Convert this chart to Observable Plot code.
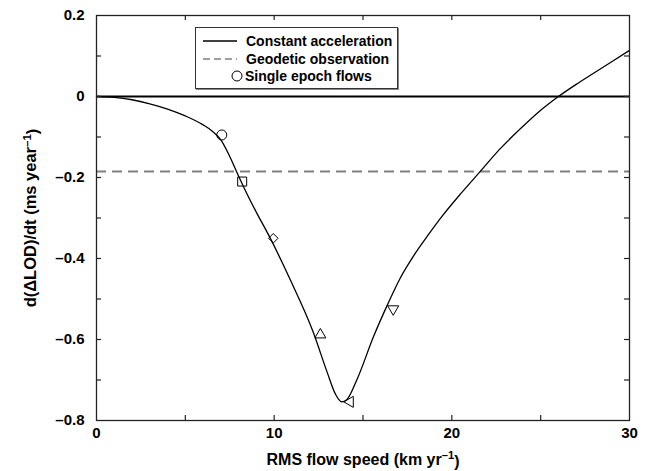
<!DOCTYPE html>
<html><head><meta charset="utf-8">
<script src="https://cdn.jsdelivr.net/npm/d3@7"></script>
<script src="https://cdn.jsdelivr.net/npm/@observablehq/plot@0.6"></script>
<style>
body{margin:0;background:#fff;}
#wrap{position:relative;width:652px;height:471px;font-family:"Liberation Sans",Arial,sans-serif;}
#legend{position:absolute;left:195px;top:27px;width:201px;height:60px;border:1px solid #333;box-shadow:1px 1px 0 #888;background:#fff;}
</style></head><body><div id="wrap"></div>
<script>
// Constant acceleration curve
const curveX = [0, 1, 2, 3, 4, 5, 6, 6.5, 7, 7.5, 8, 8.5, 9, 9.7, 10.9, 12.2, 13, 13.45, 13.8, 14.1, 14.65, 15.6, 16.4, 17.1, 17.9, 18.7, 19.5, 20.5, 21.6, 22.7, 23.9, 25, 26, 27, 28, 30];
const curveY = [0, -0.002, -0.008, -0.018, -0.031, -0.048, -0.07, -0.085, -0.107, -0.148, -0.197, -0.243, -0.286, -0.343, -0.452, -0.582, -0.683, -0.735, -0.754, -0.748, -0.7, -0.592, -0.512, -0.448, -0.39, -0.34, -0.293, -0.24, -0.185, -0.13, -0.078, -0.034, 0, 0.03, 0.058, 0.114];
// Geodetic observation
const geodetic = -0.185;
// Single epoch flows
const flowX = [7.05, 8.2, 9.95, 12.6, 14.2, 16.7];
const flowY = [-0.095, -0.21, -0.35, -0.585, -0.754, -0.528];
const flowShapes = ["circle", "square", "diamond", "triangleUp", "triangleLeft", "triangleDown"];
// Ticks
const xTicks = [0, 10, 20, 30];
const xMinor = [5, 10, 15, 20, 25];
const yTicks = [0.2, 0, -0.2, -0.4, -0.6, -0.8];
const yMinor = [0.1, 0, -0.1, -0.2, -0.3, -0.4, -0.5, -0.6, -0.7];
const legendLabels = ["Constant acceleration", "Geodetic observation", "Single epoch flows"];

const shapes = {
  circle: {draw(c, s) { const r = Math.sqrt(s / Math.PI); c.moveTo(r, 0); c.arc(0, 0, r, 0, 2 * Math.PI); }},
  square: {draw(c, s) { const r = Math.sqrt(s / Math.PI) * 0.9; c.rect(-r, -r, 2 * r, 2 * r); }},
  diamond: {draw(c, s) { const r = Math.sqrt(s / Math.PI) * 0.95; c.moveTo(0, -r); c.lineTo(r, 0); c.lineTo(0, r); c.lineTo(-r, 0); c.closePath(); }},
  triangleUp: {draw(c, s) { const r = Math.sqrt(s / Math.PI); c.moveTo(0, -r); c.lineTo(1.1 * r, 0.9 * r); c.lineTo(-1.1 * r, 0.9 * r); c.closePath(); }},
  triangleDown: {draw(c, s) { const r = Math.sqrt(s / Math.PI); c.moveTo(0, r); c.lineTo(1.1 * r, -0.9 * r); c.lineTo(-1.1 * r, -0.9 * r); c.closePath(); }},
  triangleLeft: {draw(c, s) { const r = Math.sqrt(s / Math.PI); c.moveTo(-r, 0); c.lineTo(0.9 * r, -1.1 * r); c.lineTo(0.9 * r, 1.1 * r); c.closePath(); }}
};

const W = 652, H = 471, mL = 96, mR = 23, mT = 15, mB = 51;
const plotW = W - mL - mR, plotH = H - mT - mB, tk = 5;

const curve = curveX.map((x, i) => ({x, y: curveY[i]}));
const fmtY = d => d === 0 ? "0" : d3.format(".1f")(d).replace("-", "\u2013").replace("\u2212", "\u2013");

const flowMarks = flowShapes.map((s, i) => Plot.dot([i], {x: j => flowX[j], y: j => flowY[j], symbol: shapes[s], r: 5, stroke: "#000", strokeWidth: 1, fill: "none"}));

const chart = Plot.plot({
  width: W, height: H,
  marginLeft: mL, marginRight: mR, marginTop: mT, marginBottom: mB,
  style: {fontFamily: "'Liberation Sans', Arial, sans-serif", fontSize: "15px", fontWeight: "bold", color: "#000", background: "#fff"},
  x: {domain: [0, 30]},
  y: {domain: [-0.8, 0.2]},
  marks: [
    Plot.ruleY([0], {stroke: "#000", strokeWidth: 2}),
    Plot.ruleY([geodetic], {stroke: "#808080", strokeWidth: 2, strokeDasharray: "10,6"}),
    Plot.line(curve, {x: "x", y: "y", curve: "monotone-x", stroke: "#000", strokeWidth: 1.3}),
    ...flowMarks,
    // inward ticks on all four sides
    Plot.ruleX(xMinor, {insetTop: plotH - tk, stroke: "#222", strokeWidth: 1.2}),
    Plot.ruleX(xMinor, {insetBottom: plotH - tk, stroke: "#222", strokeWidth: 1.2}),
    Plot.ruleY(yMinor, {insetRight: plotW - tk, stroke: "#222", strokeWidth: 1.2}),
    Plot.ruleY(yMinor, {insetLeft: plotW - tk, stroke: "#222", strokeWidth: 1.2}),
    Plot.axisX(xTicks, {anchor: "bottom", tickSize: 0, tickPadding: 7, fontSize: 15, tickFormat: d => String(d), label: "RMS flow speed (km yr-1)", labelAnchor: "center", labelArrow: "none", labelOffset: 44}),
    Plot.axisY(yTicks, {anchor: "left", tickSize: 0, tickPadding: 12, fontSize: 15, tickFormat: fmtY, label: "d(\u0394LOD)/dt (ms year-1)", labelAnchor: "center", labelArrow: "none", labelOffset: 72}),
    Plot.frame({stroke: "#222", strokeWidth: 1.3})
  ]
});

const wrap = document.getElementById("wrap");
wrap.appendChild(chart);

// superscripts in axis labels
function supify(sel, size, before, sup, after) {
  const t = chart.querySelector(sel);
  if (!t) return;
  const ns = "http://www.w3.org/2000/svg";
  t.textContent = "";
  t.setAttribute("font-size", size);
  const a = document.createElementNS(ns, "tspan"); a.textContent = before; t.appendChild(a);
  const b = document.createElementNS(ns, "tspan"); b.textContent = sup; b.setAttribute("dy", "-0.45em"); b.setAttribute("font-size", "70%"); t.appendChild(b);
  const c = document.createElementNS(ns, "tspan"); c.textContent = after; c.setAttribute("dy", "0.45em"); t.appendChild(c);
}
supify('g[aria-label="x-axis label"] text', "16", "RMS flow speed (km yr", "\u20131", ")");
supify('g[aria-label="y-axis label"] text', "16.5", "d(\u0394LOD)/dt (ms year", "\u20131", ")");

// legend overlay
const lg = d3.select(wrap).append("div").attr("id", "legend");
const ls = lg.append("svg").attr("width", 201).attr("height", 60)
  .style("font-family", "'Liberation Sans', Arial, sans-serif").style("font-size", "14px").style("font-weight", "bold");
const rows = [13, 31, 48];
ls.append("line").attr("x1", 7).attr("x2", 41).attr("y1", rows[0]).attr("y2", rows[0]).attr("stroke", "#000").attr("stroke-width", 1.3);
ls.append("line").attr("x1", 7).attr("x2", 41).attr("y1", rows[1]).attr("y2", rows[1]).attr("stroke", "#808080").attr("stroke-width", 1.5).attr("stroke-dasharray", "7,4");
ls.append("circle").attr("cx", 41).attr("cy", rows[2]).attr("r", 5).attr("fill", "none").attr("stroke", "#000");
legendLabels.forEach((t, i) => {
  ls.append("text").attr("x", i < 2 ? 50 : 49).attr("y", rows[i]).attr("dy", "0.36em").text(t);
});
</script></body></html>
